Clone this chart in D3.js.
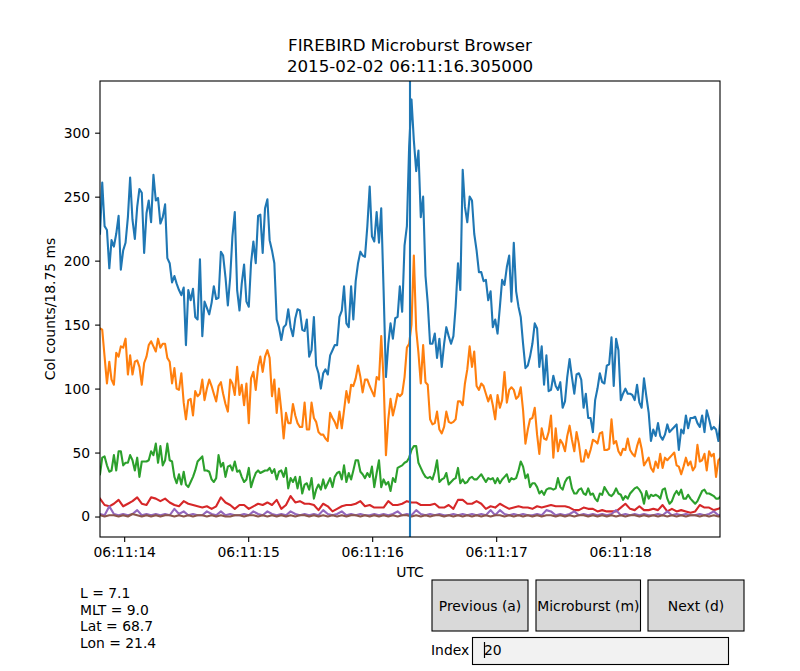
<!DOCTYPE html>
<html>
<head>
<meta charset="utf-8">
<script src="https://cdn.jsdelivr.net/npm/d3@7"></script>
<style>
  body { margin: 0; background: #fff; }
  svg { font-family: "DejaVu Sans", sans-serif; }
</style>
</head>
<body>
<div id="chart"></div>
<script>
// collimated counts per 18.75 ms bin
const startTime = "2015-02-02T06:11:13.805Z";
const burstTime = "2015-02-02T06:11:16.305Z";
const fastCadenceMs = 18.75;  // col0..col2 read at every bin
const slowCadenceMs = 37.5;   // col3..col5 read at every second bin

const col0 = [221,261,227,224,194,216,211,221,235,193,
  208,214,234,265,232,217,242,256,253,206,
  237,247,230,267,247,249,229,234,244,202,
  198,183,188,182,177,173,179,134,177,169,
  178,156,154,201,141,168,163,158,167,180,
  170,171,207,204,187,165,187,219,238,177,
  161,182,197,168,164,198,215,198,235,236,
  206,241,248,216,208,198,154,148,138,148,
  150,162,148,141,155,162,161,146,145,154,
  125,130,156,118,112,100,112,115,111,126,
  130,134,134,156,161,180,151,148,180,154,
  184,198,207,204,203,227,258,219,215,238,
  214,241,177,109,135,151,139,155,156,180,
  160,212,227,289,326,294,270,286,234,250,
  188,167,135,135,143,124,139,117,135,148,
  141,135,141,164,198,177,271,242,230,250,
  247,221,208,191,191,184,185,169,176,148,
  154,143,164,185,181,195,204,168,214,176,
  164,156,135,116,118,125,135,151,147,117,
  133,103,126,98,99,110,102,99,105,85,
  90,109,123,109,96,111,112,107,85,96,
  77,77,66,91,100,112,105,104,118,119,
  140,102,139,130,91,96,100,96,96,95,
  91,103,89,85,108,94,81,59,68,63,
  73,63,60,64,72,66,68,70,72,52,
  68,65,79,69,77,77,78,73,70,79,
  66,83,76,68,70,68,59,79];

const col1 = [147,146,125,104,121,107,103,128,125,133,
  132,139,111,126,111,121,122,117,103,120,
  125,134,137,133,129,139,132,135,135,124,
  121,104,116,100,99,112,89,76,91,92,
  79,98,94,96,107,91,100,107,102,96,
  90,102,105,96,88,82,107,104,95,117,
  95,103,87,104,73,108,113,99,117,125,
  113,125,130,124,94,107,81,100,83,61,
  81,73,73,88,79,73,70,70,89,68,
  68,89,77,74,66,64,64,61,59,81,
  77,74,69,82,69,83,98,89,103,102,
  108,118,109,97,107,107,102,98,94,109,
  107,141,107,48,76,92,79,87,96,94,
  96,109,132,135,150,204,146,128,104,134,
  105,103,76,72,73,82,68,65,70,82,
  74,73,74,76,90,90,87,104,115,133,
  117,129,102,99,104,102,96,90,95,87,
  76,95,85,91,113,89,99,101,99,92,
  94,101,83,57,68,76,77,85,64,49,
  69,61,60,66,79,46,69,51,60,57,
  51,63,71,60,51,66,57,43,43,52,
  46,52,60,59,57,65,66,52,52,53,
  76,57,59,51,48,53,52,61,52,49,
  47,55,61,53,40,43,46,38,35,43,
  38,49,38,46,44,46,48,50,40,39,
  33,39,46,40,43,36,39,56,43,44,
  49,36,51,47,49,31,44,46];

const col2 = [33,46,47,40,35,36,48,36,51,51,
  40,42,42,48,44,36,46,31,43,43,
  43,44,51,48,57,42,55,40,44,57,
  44,43,31,26,33,25,35,25,23,27,
  31,36,43,45,47,36,36,35,29,27,
  30,48,39,42,31,39,40,36,43,35,
  36,31,27,29,38,23,29,34,36,34,
  35,36,36,38,34,37,29,35,36,31,
  38,22,30,27,31,22,31,18,25,26,
  21,30,14,21,25,21,29,22,26,30,
  23,31,34,35,29,40,27,34,29,36,
  44,44,35,33,30,34,31,39,23,34,
  44,23,29,25,27,20,30,27,38,39,
  40,42,43,46,52,55,55,42,38,34,
  31,30,31,29,35,44,27,29,30,34,
  25,27,29,30,38,26,29,26,27,30,
  31,29,29,31,33,30,27,30,29,30,
  26,30,26,29,31,33,27,30,29,30,
  36,43,39,30,33,23,26,26,23,18,
  20,17,21,22,22,21,22,30,23,21,
  27,30,31,22,18,18,21,22,18,17,
  22,17,18,14,12,18,17,23,20,17,
  16,18,22,18,17,13,16,14,18,20,
  22,23,21,18,10,20,14,17,16,17,
  16,14,21,22,14,10,12,17,20,17,
  21,14,14,17,14,12,10,12,16,20,
  21,18,18,17,16,14,14,16];

const col3 = [14,9,8,10,13,8,10,12,15,10,
  9,15,14,12,14,11,9,8,12,10,
  9,8,7,8,6,8,15,11,9,6,
  9,9,6,8,10,9,11,9,13,6,
  9,16,11,12,10,10,9,5,10,8,
  4,6,8,9,9,10,12,8,9,7,
  7,7,12,9,9,10,12,11,11,9,
  9,9,10,7,7,9,6,13,13,10,
  10,12,10,6,8,7,10,8,6,7,
  8,7,7,6,8,7,8,9,8,8,
  8,7,5,5,7,6,6,4,5,4,
  4,4,7,10,6,5,8,5,5,6,
  5,9,4,6,4,5,4,3,4,9,
  7,7,5,6,8];

const col4 = [2,1,8,2,1,2,1,2,5,1,
  2,1,2,1,2,1,6,2,4,1,
  2,1,1,4,2,1,4,1,2,1,
  1,2,1,4,2,1,4,2,1,2,
  1,4,2,1,2,1,2,1,5,2,
  1,2,4,1,2,1,2,1,1,2,
  1,2,1,2,4,1,2,1,5,2,
  1,2,1,2,1,1,2,1,2,1,
  2,1,2,1,5,1,5,2,1,2,
  1,2,1,1,2,1,5,4,1,2,
  1,2,4,1,2,1,2,1,2,1,
  2,5,1,2,1,2,1,2,1,1,
  2,1,4,1,2,1,2,1,1,2,
  1,2,4,1,2];

const col5 = [1,0,1,1,0,1,0,2,1,0,
  1,0,1,0,1,1,0,1,0,1,
  0,1,1,0,1,0,1,0,0,1,
  1,0,1,1,0,1,0,1,0,1,
  0,1,0,1,1,0,1,0,1,0,
  1,0,1,0,1,1,0,1,0,1,
  0,1,0,1,0,1,1,0,1,0,
  1,0,1,1,0,1,0,1,0,1,
  0,1,0,1,0,1,1,0,1,0,
  1,0,1,0,1,0,1,1,0,1,
  0,1,0,1,1,0,1,0,1,0,
  1,0,1,0,1,1,0,1,0,1,
  0,1,0,1,0,1,0,1,1,0,
  1,0,1,0,1];

const seriesList = [col0, col1, col2, col3, col4, col5];
const seriesCadence = [fastCadenceMs, fastCadenceMs, fastCadenceMs, slowCadenceMs, slowCadenceMs, slowCadenceMs];
const seriesColors = ["#1f77b4", "#ff7f0e", "#2ca02c", "#d62728", "#9467bd", "#8c564b"];

const titleLines = ["FIREBIRD Microburst Browser", "2015-02-02 06:11:16.305000"];
const yTicks = [0, 50, 100, 150, 200, 250, 300];
const infoLines = ["L = 7.1", "MLT = 9.0", "Lat = 68.7", "Lon = 21.4"];
const buttonLabels = ["Previous (a)", "Microburst (m)", "Next (d)"];
const indexValue = "20";

const W = 800, H = 671;
const plot = { left: 100, right: 720, top: 81, bottom: 537 };
const fs = 13.9;

const svg = d3.select("#chart").append("svg")
    .attr("width", W)
    .attr("height", H);

svg.append("rect").attr("width", W).attr("height", H).attr("fill", "#fff");

const t0 = new Date(startTime);

const x = d3.scaleUtc()
    .domain([t0, new Date(t0.getTime() + 5000)])
    .range([plot.left, plot.right]);

const y = d3.scaleLinear()
    .domain([-16, 340.4])
    .range([plot.bottom, plot.top]);

svg.append("clipPath").attr("id", "clip")
    .append("rect")
    .attr("x", plot.left).attr("y", plot.top)
    .attr("width", plot.right - plot.left)
    .attr("height", plot.bottom - plot.top);

const lines = svg.append("g").attr("clip-path", "url(#clip)");
seriesList.forEach((s, k) => {
    const dt = seriesCadence[k];
    const line = d3.line()
        .x((d, i) => x(new Date(t0.getTime() + i * dt)))
        .y(d => y(d));
    lines.append("path")
        .datum(s)
        .attr("d", line)
        .attr("fill", "none")
        .attr("stroke", seriesColors[k])
        .attr("stroke-width", 2.1)
        .attr("stroke-linejoin", "round")
        .attr("stroke-linecap", "square");
});

// marker for the selected microburst
lines.append("line")
    .attr("x1", x(new Date(burstTime))).attr("x2", x(new Date(burstTime)))
    .attr("y1", plot.top).attr("y2", plot.bottom)
    .attr("stroke", "#1f77b4")
    .attr("stroke-width", 2.1);

// axes
const xAxis = d3.axisBottom(x)
    .ticks(d3.utcSecond.every(1))
    .tickFormat(d3.utcFormat("%H:%M:%S"))
    .tickSizeInner(4.9).tickSizeOuter(0).tickPadding(4.9);

const yAxis = d3.axisLeft(y)
    .tickValues(yTicks)
    .tickSizeInner(4.9).tickSizeOuter(0).tickPadding(4.9);

const gx = svg.append("g")
    .attr("transform", `translate(0,${plot.bottom})`)
    .call(xAxis);
const gy = svg.append("g")
    .attr("transform", `translate(${plot.left},0)`)
    .call(yAxis);

[gx, gy].forEach(g => {
    g.select(".domain").remove();
    g.selectAll(".tick line").attr("stroke", "#000").attr("stroke-width", 1.1);
    g.selectAll(".tick text")
        .attr("fill", "#000")
        .style("font-size", fs + "px")
        .style("font-family", "DejaVu Sans, sans-serif");
});

svg.append("rect")
    .attr("x", plot.left).attr("y", plot.top)
    .attr("width", plot.right - plot.left)
    .attr("height", plot.bottom - plot.top)
    .attr("fill", "none")
    .attr("stroke", "#000")
    .attr("stroke-width", 1.1);

// labels
svg.append("text")
    .attr("x", (plot.left + plot.right) / 2).attr("y", 577)
    .attr("text-anchor", "middle")
    .style("font-size", fs + "px")
    .text("UTC");

svg.append("text")
    .attr("transform", `translate(55,${(plot.top + plot.bottom) / 2}) rotate(-90)`)
    .attr("text-anchor", "middle")
    .style("font-size", fs + "px")
    .text("Col counts/18.75 ms");

svg.selectAll(".title")
    .data(titleLines)
    .enter().append("text")
    .attr("class", "title")
    .attr("x", (plot.left + plot.right) / 2)
    .attr("y", (d, i) => 51 + i * 21)
    .attr("text-anchor", "middle")
    .style("font-size", "16.7px")
    .text(d => d);

svg.selectAll(".info")
    .data(infoLines)
    .enter().append("text")
    .attr("class", "info")
    .attr("x", 80)
    .attr("y", (d, i) => 598 + i * 16.5)
    .style("font-size", fs + "px")
    .text(d => d);

// widget row
const buttons = [
    { x: 432, w: 96 },
    { x: 536, w: 104.5 },
    { x: 648, w: 96 }
];
const bg = svg.selectAll(".btn")
    .data(buttonLabels)
    .enter().append("g")
    .attr("class", "btn")
    .attr("transform", (d, i) => `translate(${buttons[i].x},580)`);

bg.append("rect")
    .attr("width", (d, i) => buttons[i].w)
    .attr("height", 51)
    .attr("fill", "#d9d9d9")
    .attr("stroke", "#000")
    .attr("stroke-width", 1.1);

bg.append("text")
    .attr("x", (d, i) => buttons[i].w / 2)
    .attr("y", 30.5)
    .attr("text-anchor", "middle")
    .style("font-size", fs + "px")
    .text(d => d);

svg.append("text")
    .attr("x", 431)
    .attr("y", 655)
    .style("font-size", fs + "px")
    .text("Index");

svg.append("rect")
    .attr("x", 472.5).attr("y", 637.5)
    .attr("width", 256).attr("height", 27)
    .attr("fill", "#f2f2f2")
    .attr("stroke", "#000")
    .attr("stroke-width", 1.1);

svg.append("text")
    .attr("x", 484)
    .attr("y", 655)
    .style("font-size", fs + "px")
    .text(indexValue);

svg.append("line")
    .attr("x1", 484.5).attr("x2", 484.5)
    .attr("y1", 642).attr("y2", 658)
    .attr("stroke", "#000")
    .attr("stroke-width", 1.2);
</script>
</body>
</html>
